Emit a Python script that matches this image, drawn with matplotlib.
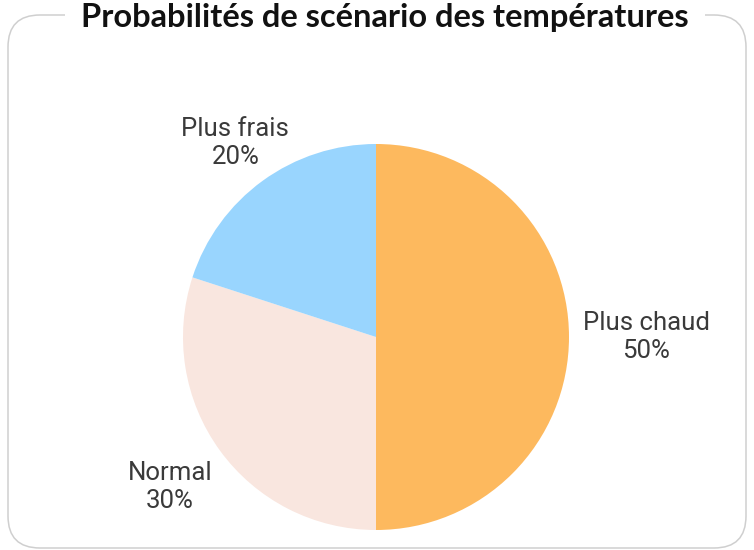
import matplotlib
matplotlib.use('Agg')
import matplotlib.pyplot as plt
import numpy as np
from matplotlib.patches import FancyBboxPatch

# ── Data ──────────────────────────────────────────────────────────────────
labels = ['Plus chaud', 'Normal', 'Plus frais']
shares = [50, 30, 20]
colors = ['#FDB95E', '#F9E6DF', '#99D5FE']
label_dist = [1.40, 1.32, 1.24]

TITLE = 'Probabilités de scénario des températures'
W, H = 754, 550

fig = plt.figure(figsize=(W / 100, H / 100), dpi=100)
fig.patch.set_facecolor('white')

# background axes in pixel units, for the rounded frame and the title
bg = fig.add_axes([0, 0, 1, 1])
bg.set_xlim(0, W)
bg.set_ylim(0, H)
bg.axis('off')
frame = FancyBboxPatch((8, 2), W - 16, H - 17,
                       boxstyle='round,pad=0,rounding_size=32',
                       fc='none', ec='#cfcfcf', lw=1.1)
bg.add_patch(frame)
bg.text(W / 2 + 8, H - 18, TITLE, ha='center', va='center',
        fontsize=23.5, fontweight='bold', family='Lato', color='#111111',
        bbox=dict(fc='white', ec='none', pad=12))

# pie axes: centre (376, 337) px, radius 193 px
cx, cy, r = 376, 337, 193
ax = fig.add_axes([(cx - r) / W, (H - cy - r) / H, 2 * r / W, 2 * r / H])
wedges, _ = ax.pie(shares, colors=colors, startangle=90, counterclock=False,
                   radius=1, wedgeprops=dict(linewidth=0))
ax.set_xlim(-1, 1)
ax.set_ylim(-1, 1)

for w, lab, val, d in zip(wedges, labels, shares, label_dist):
    ang = np.deg2rad((w.theta1 + w.theta2) / 2)
    ax.text(d * np.cos(ang), d * np.sin(ang), f'{lab}\n{val}%',
            ha='center', va='center', fontsize=18.5, family='Roboto',
            color='#3a3a3a', linespacing=1.2)

plt.savefig('out.png', dpi=100)
